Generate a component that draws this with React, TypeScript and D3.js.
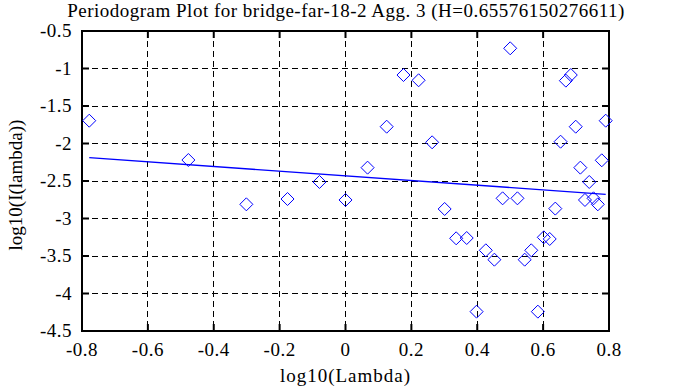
import React from 'react'
import * as d3 from 'd3'

// log10(Lambda) vs log10(I(lambda))
const lambdaLog = [
  -0.778, -0.477, -0.301, -0.176, -0.079, 0.0, 0.067, 0.125, 0.176, 0.222,
  0.263, 0.301, 0.336, 0.368, 0.398, 0.426, 0.452, 0.477, 0.500, 0.522,
  0.544, 0.564, 0.584, 0.602, 0.620, 0.637, 0.653, 0.669, 0.684, 0.699,
  0.713, 0.727, 0.740, 0.753, 0.766, 0.778, 0.790,
]
const intensityLog = [
  -1.696, -2.22, -2.811, -2.74, -2.513, -2.753, -2.322, -1.776, -1.087, -1.157,
  -1.984, -2.873, -3.264, -3.26, -4.242, -3.424, -3.549, -2.731, -0.731, -2.731,
  -3.549, -3.424, -4.242, -3.251, -3.273, -2.868, -1.976, -1.162, -1.087, -1.776,
  -2.322, -2.753, -2.513, -2.731, -2.811, -2.224, -1.696,
]
// least squares fit, endpoints
const fitX = [-0.778, 0.79]
const fitY = [-2.189, -2.677]

const xTicks = [-0.8, -0.6, -0.4, -0.2, 0, 0.2, 0.4, 0.6, 0.8]
const yTicks = [-0.5, -1, -1.5, -2, -2.5, -3, -3.5, -4, -4.5]

const title = 'Periodogram Plot for bridge-far-18-2 Agg. 3 (H=0.65576150276611)'
const xLabel = 'log10(Lambda)'
const yLabel = 'log10(I(lambda))'

const W = 673
const H = 387
const left = 82
const right = 609
const top = 31
const bottom = 331
const font = '"Liberation Serif", "DejaVu Serif", serif'

export default function App() {
  const x = d3.scaleLinear().domain([-0.8, 0.8]).range([left, right])
  const y = d3.scaleLinear().domain([-4.5, -0.5]).range([bottom, top])

  const fit = d3.line<number>()
    .x((d) => x(d))
    .y((d, i) => y(fitY[i]))(fitX)

  const r = 6.5
  const diamond = (cx: number, cy: number) =>
    `M${cx},${cy - r}L${cx + r},${cy}L${cx},${cy + r}L${cx - r},${cy}Z`

  return (
    <svg width={W} height={H} style={{ position: 'absolute', left: 0, top: 0, background: '#fff' }}>
      <rect x={0} y={0} width={W} height={H} fill="#fff" />

      {/* grid */}
      {xTicks.slice(1, -1).map((t) => (
        <line key={'gx' + t} x1={x(t)} x2={x(t)} y1={top} y2={bottom}
          stroke="#000" strokeWidth={1} strokeDasharray="6,4" shapeRendering="crispEdges" />
      ))}
      {yTicks.slice(1, -1).map((t) => (
        <line key={'gy' + t} x1={left} x2={right} y1={y(t)} y2={y(t)}
          stroke="#000" strokeWidth={1} strokeDasharray="6,4" shapeRendering="crispEdges" />
      ))}

      {/* ticks inside the frame */}
      {xTicks.map((t) => (
        <g key={'tx' + t}>
          <line x1={x(t)} x2={x(t)} y1={bottom} y2={bottom - 7} stroke="#000" strokeWidth={2} />
          <line x1={x(t)} x2={x(t)} y1={top} y2={top + 7} stroke="#000" strokeWidth={2} />
        </g>
      ))}
      {yTicks.map((t) => (
        <g key={'ty' + t}>
          <line x1={left} x2={left + 7} y1={y(t)} y2={y(t)} stroke="#000" strokeWidth={2} />
          <line x1={right} x2={right - 7} y1={y(t)} y2={y(t)} stroke="#000" strokeWidth={2} />
        </g>
      ))}

      {/* frame */}
      <rect x={left} y={top} width={right - left} height={bottom - top}
        fill="none" stroke="#000" strokeWidth={2} />

      {/* fitted line */}
      <path d={fit ?? ''} fill="none" stroke="#0000ff" strokeWidth={1.3} />

      {/* points */}
      {lambdaLog.map((v, i) => (
        <path key={'p' + i} d={diamond(x(v), y(intensityLog[i]))}
          fill="none" stroke="#0000ff" strokeWidth={1} />
      ))}

      {/* tick labels */}
      {xTicks.map((t) => (
        <text key={'lx' + t} x={x(t)} y={356} textAnchor="middle"
          fontFamily={font} fontSize={19} letterSpacing={0.5} fill="#000">{String(t)}</text>
      ))}
      {yTicks.map((t) => (
        <text key={'ly' + t} x={72} y={y(t) + 6} textAnchor="end"
          fontFamily={font} fontSize={19} letterSpacing={0.5} fill="#000">{String(t)}</text>
      ))}

      <text x={346} y={17} textAnchor="middle" fontFamily={font} fontSize={19}
        letterSpacing={0.5} fill="#000">{title}</text>
      <text x={(left + right) / 2} y={382} textAnchor="middle" fontFamily={font} fontSize={19}
        letterSpacing={1} fill="#000">{xLabel}</text>
      <text transform={`translate(22,${(top + bottom) / 2 + 4}) rotate(-90)`} textAnchor="middle"
        fontFamily={font} fontSize={19} fill="#000">{yLabel}</text>
    </svg>
  )
}
